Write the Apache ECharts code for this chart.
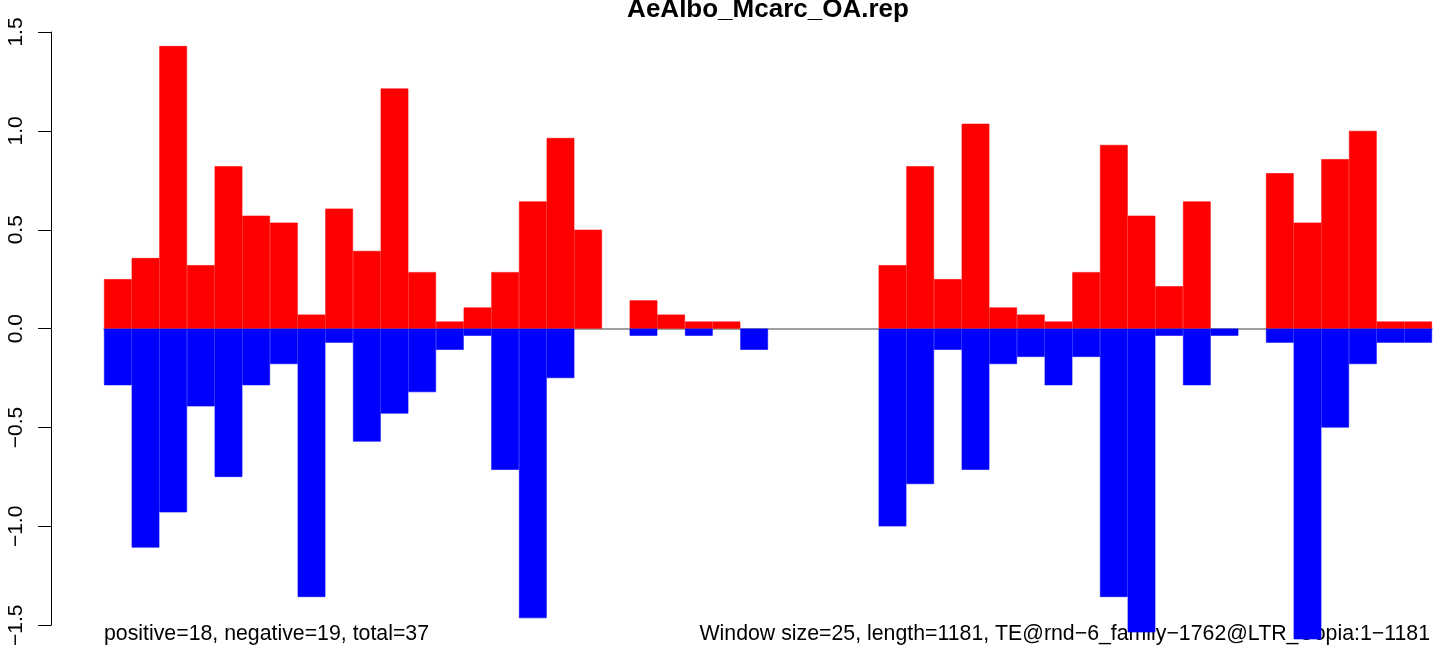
<!DOCTYPE html>
<html>
<head>
<meta charset="utf-8">
<script src="https://cdn.jsdelivr.net/npm/echarts@6/dist/echarts.min.js"></script>
<style>
  html, body { margin: 0; padding: 0; background: #fff; }
  #container { width: 1441px; height: 649px; }
</style>
</head>
<body>
<div id="container"></div>
<script>
// window index along the TE (48 windows of 25 bp)
const windows = Array.from({ length: 48 }, (_, i) => i + 1);
const positiveValues = [
  0.25, 0.357, 1.429, 0.321, 0.821, 0.571, 0.536, 0.071, 0.607, 0.393, 1.214, 0.286,
  0.036, 0.107, 0.286, 0.643, 0.964, 0.5, 0, 0.143, 0.071, 0.036, 0.036, 0,
  0, 0, 0, 0, 0.321, 0.821, 0.25, 1.036, 0.107, 0.071, 0.036, 0.286,
  0.929, 0.571, 0.214, 0.643, 0, 0, 0.786, 0.536, 0.857, 1.0, 0.036, 0.036
];
const negativeValues = [
  -0.286, -1.107, -0.929, -0.393, -0.75, -0.286, -0.179, -1.357, -0.071, -0.571, -0.429, -0.321,
  -0.107, -0.036, -0.714, -1.464, -0.25, 0, 0, -0.036, 0, -0.036, 0, -0.107,
  0, 0, 0, 0, -1.0, -0.786, -0.107, -0.714, -0.179, -0.143, -0.286, -0.143,
  -1.357, -1.536, -0.036, -0.286, -0.036, 0, -0.071, -1.571, -0.5, -0.179, -0.071, -0.071
];
const yTicks = { min: -1.5, max: 1.5, interval: 0.5 };
const chartTitle = "AeAlbo_Mcarc_OA.rep";
const leftNote = "positive=18, negative=19, total=37";
const rightNote = "Window size=25, length=1181, TE@rnd\u22126_family\u22121762@LTR_Copia:1\u22121181";

const myChart = echarts.init(document.getElementById("container"));
const font = "Liberation Sans, Arial, sans-serif";
// empty windows get no bar at all
const noZero = (arr) => arr.map((v) => (v === 0 ? "-" : v));

const options = {
  animation: false,
  backgroundColor: "#fff",
  grid: { left: 104, right: 9, top: 32, bottom: 21 },
  xAxis: {
    type: "category",
    data: windows,
    axisLine: { show: true, onZero: true, lineStyle: { color: "#808080", width: 1.5 } },
    axisTick: { show: false },
    axisLabel: { show: false },
    splitLine: { show: false }
  },
  yAxis: {
    type: "value",
    min: yTicks.min,
    max: yTicks.max,
    interval: yTicks.interval,
    position: "left",
    offset: 53,
    axisLine: { show: true, lineStyle: { color: "#000", width: 1 } },
    axisTick: { show: true, length: 13, lineStyle: { color: "#000", width: 1 } },
    splitLine: { show: false },
    axisLabel: {
      rotate: 90,
      margin: 24,
      color: "#000",
      fontSize: 21,
      fontFamily: font,
      formatter: (v) => v.toFixed(1).replace("-", "\u2212")
    }
  },
  graphic: [
    {
      type: "text",
      x: 768,
      y: 10,
      style: { text: chartTitle, font: "bold 26px " + font, fill: "#000", textAlign: "center", textVerticalAlign: "middle" }
    },
    {
      type: "text",
      x: 104,
      y: 634,
      style: { text: leftNote, font: "21.3px " + font, fill: "#000", textAlign: "left", textVerticalAlign: "middle" }
    },
    {
      type: "text",
      x: 1430,
      y: 634,
      style: { text: rightNote, font: "21.3px " + font, fill: "#000", textAlign: "right", textVerticalAlign: "middle" }
    }
  ],
  series: [
    {
      name: "positive",
      type: "bar",
      data: noZero(positiveValues),
      barCategoryGap: "0%",
      barGap: "-100%",
      clip: false,
      itemStyle: { color: "#ff0000", borderColor: "#ff0000", borderWidth: 0.6 }
    },
    {
      name: "negative",
      type: "bar",
      data: noZero(negativeValues),
      barCategoryGap: "0%",
      barGap: "-100%",
      clip: false,
      itemStyle: { color: "#0000ff", borderColor: "#0000ff", borderWidth: 0.6 }
    }
  ]
};
myChart.setOption(options);
window.addEventListener("resize", function () {
  myChart.resize();
});
</script>
</body>
</html>
